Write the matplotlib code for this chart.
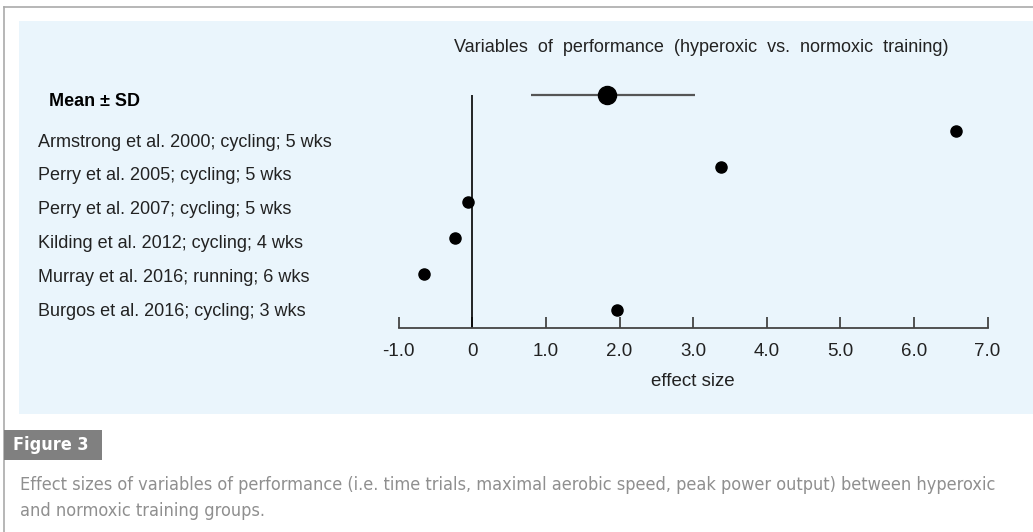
import matplotlib.pyplot as plt
from matplotlib.patches import Rectangle

# data
studies = ["Armstrong et al. 2000; cycling; 5 wks",
           "Perry et al. 2005; cycling; 5 wks",
           "Perry et al. 2007; cycling; 5 wks",
           "Kilding et al. 2012; cycling; 4 wks",
           "Murray et al. 2016; running; 6 wks",
           "Burgos et al. 2016; cycling; 3 wks"]
effects = [6.57, 3.38, -0.06, -0.24, -0.66, 1.97]
mean_effect = 1.83
mean_err_low = 1.03
mean_err_high = 1.2
xticks = [-1, 0, 1, 2, 3, 4, 5, 6, 7]
xticklabels = ["-1.0", "0", "1.0", "2.0", "3.0", "4.0", "5.0", "6.0", "7.0"]

plt.rcParams['font.family'] = ['Liberation Sans', 'DejaVu Sans']
W, H = 1033, 532
fig = plt.figure(figsize=(W / 100, H / 100), dpi=100)
fig.patch.set_facecolor('white')

def px(x, y):
    return x / W, 1 - y / H

# outer frame + light blue panel (behind the axes)
fig.add_artist(plt.Line2D([4 / W, 1], [1 - 7 / H, 1 - 7 / H], color='#aaaaaa', lw=1.2, zorder=-5))
fig.add_artist(plt.Line2D([4 / W, 4 / W], [0, 1 - 7 / H], color='#aaaaaa', lw=1.2, zorder=-5))
fig.add_artist(Rectangle(px(19, 414), (W - 19) / W, (414 - 21) / H, zorder=-5,
                         transform=fig.transFigure, facecolor='#eaf5fc', edgecolor='none'))

# axes
top_px, bot_px = 77, 328
ax = fig.add_axes([398.75 / W, 1 - bot_px / H, (987.5 - 398.75) / W, (bot_px - top_px) / H])
ax.set_facecolor('none')
ax.set_xlim(-1, 7)
ax.set_ylim(6.5, -0.5)
for s in ['top', 'right', 'left']:
    ax.spines[s].set_visible(False)
ax.spines['bottom'].set_color('#444444')
ax.spines['bottom'].set_linewidth(1.3)
ax.set_yticks([])
ax.set_xticks(xticks)
ax.set_xticklabels(xticklabels, fontsize=13.5, color='#222222')
ax.tick_params(axis='x', direction='in', length=8, width=1.3, color='#444444', pad=11)
ax.set_xlabel('effect size', fontsize=13.5, color='#222222', labelpad=9)

ax.vlines(0, 0, 6.5, color='black', lw=1.2)
ax.errorbar([mean_effect], [0], xerr=[[mean_err_low], [mean_err_high]], fmt='o', color='black',
            ms=13, ecolor='#555555', elinewidth=1.6, capsize=0, clip_on=False, zorder=3)
ax.plot(effects, range(1, len(effects) + 1), 'o', color='black', ms=8, clip_on=False, zorder=3)

# texts
fig.text(*px(701, 47), 'Variables  of  performance  (hyperoxic  vs.  normoxic  training)',
         fontsize=13, ha='center', va='center', color='#222222')
fig.text(*px(49, 101), 'Mean ± SD', fontsize=13, fontweight='bold', ha='left', va='center')
for i, name in enumerate(studies):
    fig.text(*px(38, 142 + i * 33.8), name, fontsize=13, ha='left', va='center', color='#222222')

# caption
fig.add_artist(Rectangle(px(4, 460), 98 / W, 30 / H, transform=fig.transFigure,
                         facecolor='#808080', edgecolor='none'))
cap_font = ['DejaVu Sans']
fig.text(*px(13, 445), 'Figure 3', fontsize=13, fontweight='bold', color='white',
         ha='left', va='center', family=cap_font, fontstretch='condensed')
fig.text(*px(20, 485), 'Effect sizes of variables of performance (i.e. time trials, maximal aerobic speed, '
         'peak power output) between hyperoxic', fontsize=13, color='#8f8f8f', ha='left', va='center',
         family=cap_font, fontstretch='condensed')
fig.text(*px(20, 511), 'and normoxic training groups.', fontsize=13, color='#8f8f8f',
         ha='left', va='center', family=cap_font, fontstretch='condensed')

fig.savefig('out.png', dpi=100)
